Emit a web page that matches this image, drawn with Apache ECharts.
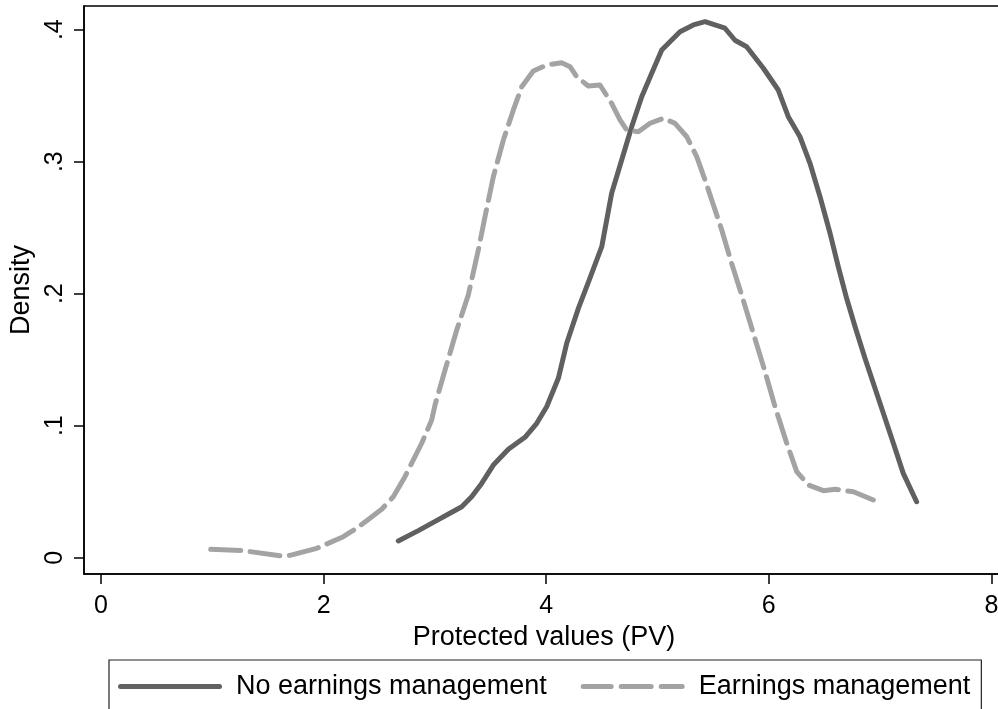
<!DOCTYPE html>
<html>
<head>
<meta charset="utf-8">
<script src="https://cdn.jsdelivr.net/npm/echarts@6/dist/echarts.min.js"></script>
<style>
html,body{margin:0;padding:0;background:#fff;}
#chart{width:998px;height:709px;}
</style>
</head>
<body>
<div id="chart"></div>
<script>
// Kernel density: No earnings management
const noEmX = [2.671,2.851,2.986,3.106,3.241,3.330,3.420,3.525,3.660,3.809,3.915,4.004,4.109,4.184,4.289,4.387,4.499,4.588,4.678,4.768,4.858,4.948,5.038,5.202,5.322,5.427,5.606,5.696,5.801,5.951,6.085,6.175,6.280,6.370,6.460,6.550,6.624,6.699,6.775,6.864,6.939,7.029,7.119,7.208,7.328];
const noEmY = [0.0127,0.0205,0.0268,0.0323,0.0386,0.0462,0.0563,0.0702,0.0821,0.0912,0.1018,0.1144,0.1359,0.1624,0.1889,0.2104,0.2356,0.2761,0.3013,0.3265,0.3492,0.3670,0.3846,0.3985,0.4036,0.4061,0.4011,0.3920,0.3871,0.3708,0.3543,0.3341,0.3189,0.2988,0.2735,0.2458,0.2205,0.1965,0.1750,0.1511,0.1321,0.1094,0.0867,0.0639,0.0424];
// Kernel density: Earnings management
const emX = [0.986,1.279,1.623,1.698,1.938,2.177,2.297,2.522,2.626,2.731,2.881,2.971,3.001,3.091,3.196,3.300,3.390,3.450,3.525,3.615,3.705,3.780,3.884,4.004,4.139,4.214,4.274,4.378,4.483,4.588,4.663,4.723,4.828,4.933,5.052,5.157,5.263,5.352,5.427,5.487,5.577,5.666,5.756,5.861,5.966,6.056,6.161,6.251,6.355,6.490,6.595,6.760,6.939];
const emY = [0.0064,0.0053,0.0013,0.0018,0.0071,0.0159,0.0223,0.0367,0.0462,0.0614,0.0867,0.1043,0.1157,0.1422,0.1725,0.1990,0.2331,0.2583,0.2886,0.3164,0.3392,0.3568,0.3687,0.3733,0.3750,0.3720,0.3644,0.3573,0.3581,0.3442,0.3316,0.3240,0.3227,0.3291,0.3329,0.3291,0.3189,0.3038,0.2861,0.2710,0.2483,0.2230,0.1990,0.1700,0.1409,0.1144,0.0867,0.0652,0.0551,0.0508,0.0518,0.0500,0.0437];

const xTicks = [0, 2, 4, 6, 8];
const yTicks = [0, 0.1, 0.2, 0.3, 0.4];
const seriesNames = ['No earnings management', 'Earnings management'];
const xTitle = 'Protected values (PV)';
const yTitle = 'Density';

const zip = (xs, ys) => xs.map((x, i) => [x, ys[i]]);
const FONT = '"Liberation Sans", Arial, Helvetica, sans-serif';

// legend key shapes: a solid rounded bar and a dashed rounded bar (104 x 5)
function roundBar(a, b) {
  const r = 2.5;
  return 'M' + (a + r) + ',0 H' + (b - r) + ' A' + r + ',' + r + ' 0 0 1 ' + (b - r) + ',5 H' + (a + r) +
         ' A' + r + ',' + r + ' 0 0 1 ' + (a + r) + ',0 Z ';
}
const solidIcon = 'path://' + roundBar(0, 104);
const dashIcon = 'path://' + roundBar(0, 33) + roundBar(38, 73) + roundBar(78, 104);

const chart = echarts.init(document.getElementById('chart'), null, {renderer: 'canvas'});
chart.setOption({
  backgroundColor: '#ffffff',
  animation: false,
  textStyle: {fontFamily: FONT},
  grid: {
    left: 84, top: 6, right: -6, bottom: 135,
    outerBoundsMode: 'none', containLabel: false,
    show: true, borderColor: '#000', borderWidth: 1.5, backgroundColor: 'transparent'
  },
  xAxis: {
    type: 'value',
    min: -0.1527, max: 8.113,
    name: xTitle, nameLocation: 'middle', nameGap: 43,
    nameTextStyle: {fontSize: 27, color: '#000', fontFamily: FONT},
    splitLine: {show: false},
    axisLine: {show: true, onZero: false, lineStyle: {color: '#000', width: 1.5}},
    axisTick: {show: true, length: 10, customValues: xTicks, lineStyle: {color: '#000', width: 1.5}},
    axisLabel: {customValues: xTicks, margin: 20, fontSize: 25, color: '#000', fontFamily: FONT,
      hideOverlap: false, formatter: v => String(v)}
  },
  yAxis: {
    type: 'value',
    min: -0.01235, max: 0.41795,
    name: yTitle, nameLocation: 'middle', nameGap: 46, nameRotate: 90,
    nameTextStyle: {fontSize: 27, color: '#000', fontFamily: FONT},
    splitLine: {show: false},
    axisLine: {show: true, onZero: false, lineStyle: {color: '#000', width: 1.5}},
    axisTick: {show: true, length: 10, customValues: yTicks, lineStyle: {color: '#000', width: 1.5}},
    axisLabel: {customValues: yTicks, margin: 16, rotate: 90, fontSize: 25, color: '#000', fontFamily: FONT,
      formatter: v => (v === 0 ? '0' : String(Math.round(v * 10) / 10).replace(/^0\./, '.'))}
  },
  legend: {
    show: true,
    left: 109, top: 660,
    padding: [13, 11, 30, 9],
    borderColor: '#222', borderWidth: 1.2,
    itemWidth: 104, itemHeight: 5, itemGap: 34,
    textStyle: {fontSize: 27, color: '#000', fontFamily: FONT, padding: [0, 0, 0, 9]},
    data: [
      {name: seriesNames[0], icon: solidIcon, itemStyle: {color: '#626262'}},
      {name: seriesNames[1], icon: dashIcon, itemStyle: {color: '#a3a3a3'}}
    ]
  },
  series: [
    {
      name: seriesNames[0], type: 'line', data: zip(noEmX, noEmY),
      showSymbol: false, symbol: 'none', smooth: false,
      lineStyle: {color: '#606060', width: 5, cap: 'round', join: 'round'},
      itemStyle: {color: '#606060'}
    },
    {
      name: seriesNames[1], type: 'line', data: zip(emX, emY),
      showSymbol: false, symbol: 'none', smooth: false,
      lineStyle: {color: '#a3a3a3', width: 5, type: [30, 9.5], cap: 'round', join: 'round'},
      itemStyle: {color: '#a3a3a3'}
    }
  ]
});
</script>
</body>
</html>
